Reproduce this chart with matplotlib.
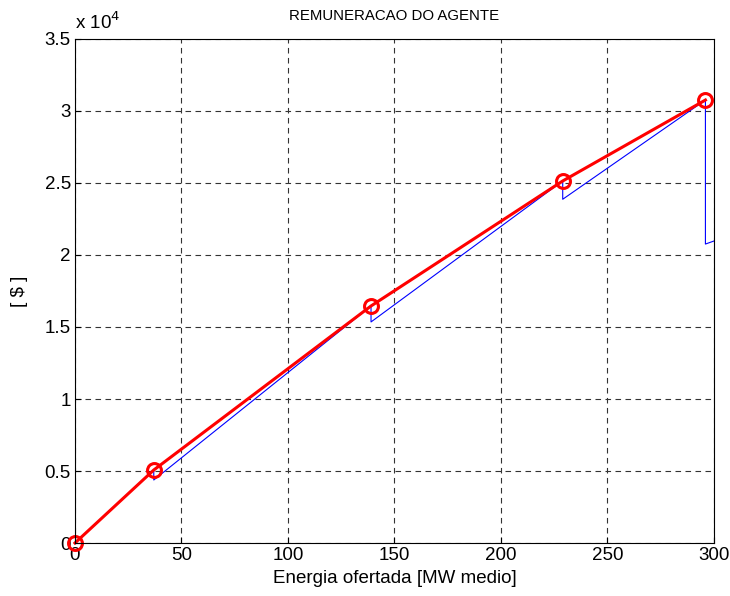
import matplotlib
matplotlib.use('Agg')
import matplotlib.pyplot as plt
import numpy as np

plt.rcParams['font.family'] = ['Liberation Sans', 'DejaVu Sans']
plt.rcParams['font.size'] = 13

# red curve: offered energy vs agent remuneration
red_x = [0, 37, 139, 229, 296]
red_y = [0, 5070, 16460, 25140, 30760]

# blue sawtooth
blue_x = [0, 37, 37, 139, 139, 229, 229, 296, 296, 300]
blue_y = [0, 5070, 4375, 16460, 15350, 25140, 23870, 30760, 20760, 20970]

xticks = [0, 50, 100, 150, 200, 250, 300]
yticks = [0, 5000, 10000, 15000, 20000, 25000, 30000, 35000]
ytick_labels = ['0', '0.5', '1', '1.5', '2', '2.5', '3', '3.5']

fig = plt.figure(figsize=(7.3, 5.96), dpi=100)
ax = fig.add_axes([0.1027, 0.0889, 0.8753, 0.8457])

ax.plot(blue_x, blue_y, color='blue', lw=0.8)
ax.plot(red_x, red_y, color='red', lw=2.2, marker='o', markersize=10,
        markerfacecolor='none', markeredgewidth=2.2, clip_on=False)

ax.set_xlim(0, 300)
ax.set_ylim(0, 35000)
ax.set_xticks(xticks)
ax.set_yticks(yticks)
ax.set_yticklabels(ytick_labels)
ax.tick_params(direction='in', length=4, labelsize=13.5, pad=3)
ax.grid(True, linestyle=(0, (5, 4)), color='#333333', lw=0.8)

ax.set_title('REMUNERACAO DO AGENTE', fontsize=10.8, pad=14)
ax.set_xlabel('Energia ofertada [MW medio]', fontsize=13.5, labelpad=4)
ax.set_ylabel('[ $ ]', fontsize=13.5, labelpad=12)
ax.text(0.0, 1.012, r'x 10$^{4}$', transform=ax.transAxes, fontsize=13.5,
        ha='left', va='bottom')

fig.savefig('out.png', dpi=100)
